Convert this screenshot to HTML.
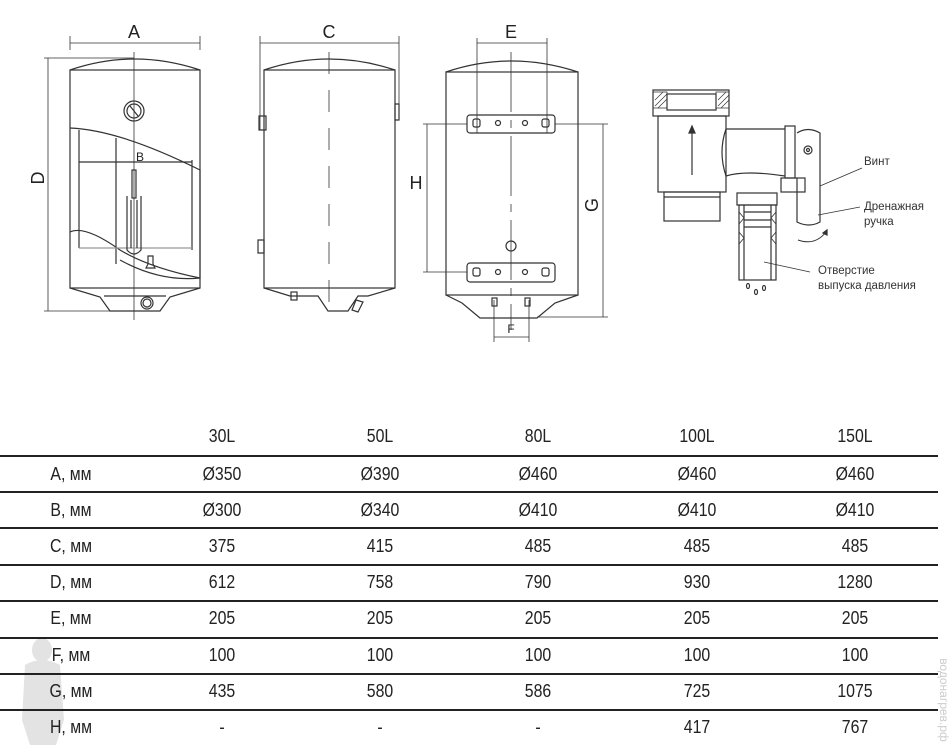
<!DOCTYPE html>
<html><head><meta charset="utf-8"><style>
body{margin:0;width:952px;height:753px;background:#fff;overflow:hidden;position:relative;font-family:"Liberation Sans","DejaVu Sans",sans-serif;}
svg{position:absolute;left:0;top:0}
.t{position:absolute;font-size:18px;color:#222;transform:scaleX(0.88);transform-origin:center;text-align:center;width:100px;margin-left:-50px;line-height:20px}
.hl{position:absolute;left:0;width:938px;height:1.5px;background:#222}
</style></head><body>
<svg width="952" height="753" viewBox="0 0 952 753" font-family="Liberation Sans, sans-serif">
<g fill="none" stroke="#333" stroke-width="1.2">
<!-- Left tank -->
<path d="M70 70 Q134 48 200 70"/>
<rect x="70" y="70" width="130" height="218"/>
<path d="M70 288 L100 297 L110 311 L160 311 L170 297 L200 288"/>
<line x1="104" y1="296" x2="166" y2="296"/>
<line x1="134" y1="52" x2="134" y2="320" stroke-width="0.8"/>
<line x1="70" y1="36" x2="70" y2="50" stroke-width="0.8"/>
<line x1="200" y1="36" x2="200" y2="50" stroke-width="0.8"/>
<line x1="70" y1="43" x2="200" y2="43" stroke-width="0.8"/>
<line x1="48" y1="58" x2="48" y2="311" stroke-width="0.8"/>
<line x1="44" y1="58" x2="134" y2="58" stroke-width="0.8"/>
<line x1="44" y1="311" x2="110" y2="311" stroke-width="0.8"/>
<circle cx="134" cy="111" r="10"/><circle cx="134" cy="111" r="7"/>
<line x1="130" y1="106" x2="138" y2="116"/>
<path d="M70 128 Q120 130 200 170 L200 278 Q150 268 120 250 Q85 225 70 232"/>
<path d="M79 130 L79 248 M116 138 L116 264"/>
<path d="M79 162 L192 162 M192 160 L192 250"/>
<line x1="79" y1="248" x2="192" y2="248" stroke="#999"/>
<path d="M127 196 L127 250 Q134 258 141 250 L141 196 M131 200 L131 248 M137 200 L137 248"/>
<rect x="132" y="170" width="4" height="28"/>
<path d="M148 256 l5 0 l0 8 l2 4 l-9 0 l2 -4z"/>
<path d="M120 260 Q160 282 200 278"/>
<circle cx="147" cy="303" r="6"/><circle cx="147" cy="303" r="4"/>
<!-- Middle tank -->
<path d="M264 70 Q329 48 395 70"/>
<rect x="264" y="70" width="131" height="218"/>
<path d="M264 288 L290 296 L318 296 L328 311 L348 311 L358 296 L368 296 L395 288"/>
<rect x="291" y="292" width="6" height="8"/>
<path d="M356 300 L363 302 L358 312 L352 310z"/>
<path d="M259 116 h7 v14 h-7z M395 104 h4 v16 h-4z M258 240 h6 v13 h-6z"/>
<line x1="329" y1="52" x2="329" y2="318" stroke-width="0.8" stroke-dasharray="22 16"/>
<line x1="260" y1="36" x2="260" y2="130" stroke-width="0.8"/>
<line x1="399" y1="36" x2="399" y2="110" stroke-width="0.8"/>
<line x1="260" y1="43" x2="399" y2="43" stroke-width="0.8"/>
<!-- Right tank -->
<path d="M446 72 Q511 50 578 72"/>
<rect x="446" y="72" width="132" height="223"/>
<path d="M446 295 L462 303 L480 318 L537 318 L555 303 L578 295"/>
<line x1="511" y1="52" x2="511" y2="330" stroke-width="0.8" stroke-dasharray="60 8 8 8"/>
<rect x="467" y="115" width="88" height="18" rx="3"/>
<rect x="467" y="263" width="88" height="19" rx="3"/>
<rect x="473" y="119" width="7" height="8" rx="2"/><circle cx="498" cy="123" r="2.5"/><circle cx="525" cy="123" r="2.5"/><rect x="542" y="119" width="7" height="8" rx="2"/>
<rect x="473" y="268" width="7" height="8" rx="2"/><circle cx="498" cy="272" r="2.5"/><circle cx="525" cy="272" r="2.5"/><rect x="542" y="268" width="7" height="8" rx="2"/>
<circle cx="511" cy="246" r="5"/>
<rect x="492" y="298" width="5" height="8"/><rect x="525" y="298" width="5" height="8"/>
<g stroke-width="0.8">
<line x1="477" y1="38" x2="477" y2="133"/><line x1="547" y1="38" x2="547" y2="133"/>
<line x1="477" y1="43" x2="547" y2="43"/>
<line x1="423" y1="124" x2="467" y2="124"/><line x1="423" y1="272" x2="467" y2="272"/>
<line x1="427" y1="124" x2="427" y2="272"/>
<line x1="555" y1="124" x2="608" y2="124"/><line x1="537" y1="317" x2="608" y2="317"/>
<line x1="603" y1="124" x2="603" y2="317"/>
<line x1="494" y1="300" x2="494" y2="342"/><line x1="529" y1="300" x2="529" y2="342"/>
<line x1="494" y1="337" x2="529" y2="337"/>
</g>
<!-- Valve -->
<rect x="653" y="90" width="76" height="26"/>
<rect x="667" y="94" width="49" height="16"/>
<path d="M653 92 l14 0 l0 16 l-14 0z M716 92 l13 0 l0 16 l-13 0z" stroke-width="0.8"/>
<path d="M655 100 l8 -8 M655 106 l12 -12 M658 108 l9 -9 M718 100 l8 -8 M718 106 l11 -11 M721 108 l8 -8" stroke-width="0.7"/>
<rect x="658" y="116" width="68" height="76"/>
<rect x="664" y="192" width="56" height="29"/><line x1="664" y1="197" x2="720" y2="197"/>
<line x1="692" y1="175" x2="692" y2="128"/><path d="M689 133 L692 126 L695 133z" fill="#333"/>
<path d="M726 129 L785 129 M726 176 Q745 170 785 176 M726 129 Q718 152 726 176"/>
<rect x="785" y="126" width="10" height="52"/>
<path d="M797 133 Q808 126 820 133 L820 222 Q809 228 797 222 L797 178"/>
<circle cx="808" cy="150" r="4"/><circle cx="808" cy="150" r="1.5"/>
<rect x="781" y="178" width="24" height="14"/>
<rect x="737" y="193" width="40" height="12"/>
<rect x="739" y="205" width="37" height="75"/>
<path d="M744 205 L744 280 M771 205 L771 280 M744 212 L771 212 M744 220 L771 220 M744 227 L771 227"/>
<path d="M739 212 l5 6 l-5 6 M776 212 l-5 6 l5 6 M739 232 l5 6 l-5 6 M776 232 l-5 6 l5 6" stroke-width="0.8"/>
<ellipse cx="748" cy="286" rx="1.5" ry="2.5"/><ellipse cx="756" cy="292" rx="1.5" ry="2.5"/><ellipse cx="764" cy="288" rx="1.5" ry="2.5"/>
<path d="M798 240 Q815 246 826 232" stroke-width="1"/><path d="M823 233 l4 -3 l0 5z" fill="#333"/>
<g stroke-width="0.8">
<line x1="820" y1="186" x2="862" y2="168"/>
<line x1="818" y1="215" x2="860" y2="207"/>
<line x1="764" y1="262" x2="810" y2="272"/>
</g>
</g>
<g fill="#222" font-size="18" text-anchor="middle">
<text x="134" y="38">A</text><text x="329" y="38">C</text><text x="511" y="38">E</text>
<text x="416" y="189">H</text>
<text x="44" y="178" transform="rotate(-90 44 178)">D</text>
<text x="598" y="205" transform="rotate(-90 598 205)">G</text>
</g>
<g fill="#222" font-size="12" text-anchor="middle"><text x="140" y="161">B</text><text x="511" y="333">F</text></g>
<g fill="#333" font-size="11.5">
<text x="864" y="165">Винт</text>
<text x="864" y="210">Дренажная</text><text x="864" y="225">ручка</text>
<text x="818" y="274">Отверстие</text><text x="818" y="289">выпуска давления</text>
</g>
<g fill="#ddd" opacity="0.8">
<ellipse cx="42" cy="650" rx="10" ry="12"/>
<path d="M25 665 Q42 655 60 665 L64 720 L56 745 L30 745 L22 720z"/>
</g>
<text x="940" y="700" font-size="12" fill="#ccc" transform="rotate(90 940 700)" text-anchor="middle">водонагрев.рф</text>
</svg>
<div class="t" style="left:222px;top:426px">30L</div>
<div class="t" style="left:380px;top:426px">50L</div>
<div class="t" style="left:538px;top:426px">80L</div>
<div class="t" style="left:697px;top:426px">100L</div>
<div class="t" style="left:855px;top:426px">150L</div>
<div class="hl" style="top:455px"></div>
<div class="t" style="left:71px;top:464px">A, мм</div><div class="t" style="left:222px;top:464px">Ø350</div><div class="t" style="left:380px;top:464px">Ø390</div><div class="t" style="left:538px;top:464px">Ø460</div><div class="t" style="left:697px;top:464px">Ø460</div><div class="t" style="left:855px;top:464px">Ø460</div>
<div class="hl" style="top:491px"></div>
<div class="t" style="left:71px;top:500px">B, мм</div><div class="t" style="left:222px;top:500px">Ø300</div><div class="t" style="left:380px;top:500px">Ø340</div><div class="t" style="left:538px;top:500px">Ø410</div><div class="t" style="left:697px;top:500px">Ø410</div><div class="t" style="left:855px;top:500px">Ø410</div>
<div class="hl" style="top:527px"></div>
<div class="t" style="left:71px;top:536px">C, мм</div><div class="t" style="left:222px;top:536px">375</div><div class="t" style="left:380px;top:536px">415</div><div class="t" style="left:538px;top:536px">485</div><div class="t" style="left:697px;top:536px">485</div><div class="t" style="left:855px;top:536px">485</div>
<div class="hl" style="top:564px"></div>
<div class="t" style="left:71px;top:572px">D, мм</div><div class="t" style="left:222px;top:572px">612</div><div class="t" style="left:380px;top:572px">758</div><div class="t" style="left:538px;top:572px">790</div><div class="t" style="left:697px;top:572px">930</div><div class="t" style="left:855px;top:572px">1280</div>
<div class="hl" style="top:600px"></div>
<div class="t" style="left:71px;top:608px">E, мм</div><div class="t" style="left:222px;top:608px">205</div><div class="t" style="left:380px;top:608px">205</div><div class="t" style="left:538px;top:608px">205</div><div class="t" style="left:697px;top:608px">205</div><div class="t" style="left:855px;top:608px">205</div>
<div class="hl" style="top:637px"></div>
<div class="t" style="left:71px;top:645px">F, мм</div><div class="t" style="left:222px;top:645px">100</div><div class="t" style="left:380px;top:645px">100</div><div class="t" style="left:538px;top:645px">100</div><div class="t" style="left:697px;top:645px">100</div><div class="t" style="left:855px;top:645px">100</div>
<div class="hl" style="top:673px"></div>
<div class="t" style="left:71px;top:681px">G, мм</div><div class="t" style="left:222px;top:681px">435</div><div class="t" style="left:380px;top:681px">580</div><div class="t" style="left:538px;top:681px">586</div><div class="t" style="left:697px;top:681px">725</div><div class="t" style="left:855px;top:681px">1075</div>
<div class="hl" style="top:709px"></div>
<div class="t" style="left:71px;top:717px">H, мм</div><div class="t" style="left:222px;top:717px">-</div><div class="t" style="left:380px;top:717px">-</div><div class="t" style="left:538px;top:717px">-</div><div class="t" style="left:697px;top:717px">417</div><div class="t" style="left:855px;top:717px">767</div>
</body></html>
